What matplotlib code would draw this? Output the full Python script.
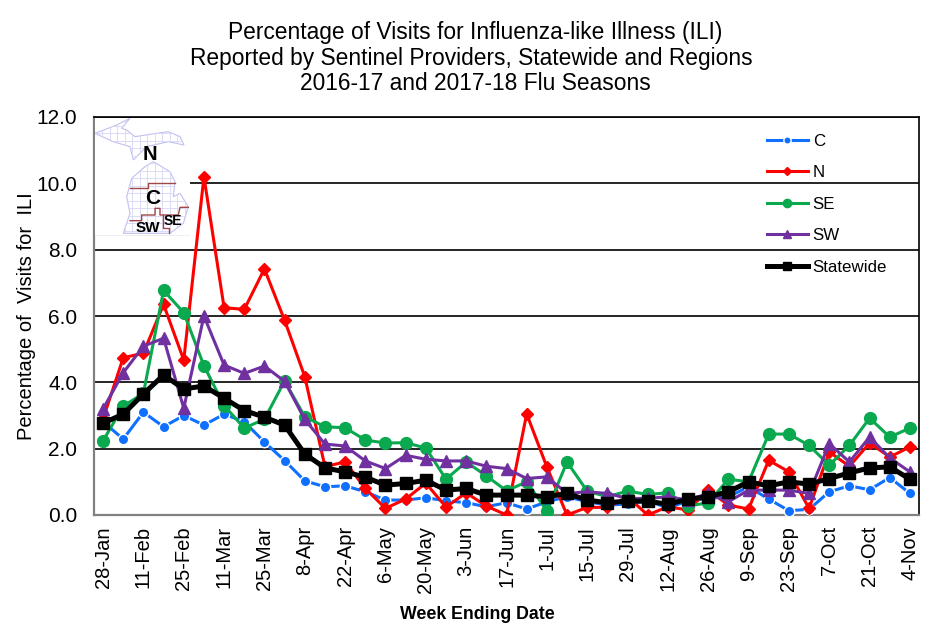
import numpy as np
import matplotlib
matplotlib.use("Agg")
import matplotlib.pyplot as plt
from matplotlib.patches import Polygon

plt.rcParams["font.family"] = ["Liberation Sans", "DejaVu Sans"]

W, H = 938, 623

weeks = ["28-Jan", "4-Feb", "11-Feb", "18-Feb", "25-Feb", "4-Mar", "11-Mar", "18-Mar", "25-Mar", "1-Apr",
         "8-Apr", "15-Apr", "22-Apr", "29-Apr", "6-May", "13-May", "20-May", "27-May", "3-Jun", "10-Jun",
         "17-Jun", "24-Jun", "1-Jul", "8-Jul", "15-Jul", "22-Jul", "29-Jul", "5-Aug", "12-Aug", "19-Aug",
         "26-Aug", "2-Sep", "9-Sep", "16-Sep", "23-Sep", "30-Sep", "7-Oct", "14-Oct", "21-Oct", "28-Oct", "4-Nov"]

c_vals = [2.81, 2.29, 3.10, 2.66, 3.00, 2.71, 3.04, 2.81, 2.20, 1.64, 1.03, 0.85, 0.88, 0.70, 0.45, 0.45,
          0.52, 0.43, 0.37, 0.25, 0.37, 0.18, 0.40, 0.55, 0.40, 0.30, 0.33, 0.42, 0.22, 0.42, 0.50, 0.55,
          0.85, 0.48, 0.13, 0.17, 0.70, 0.88, 0.76, 1.13, 0.65]
n_vals = [2.90, 4.74, 4.88, 6.35, 4.67, 10.2, 6.25, 6.20, 7.42, 5.87, 4.17, 1.46, 1.60, 0.80, 0.20, 0.48,
          0.96, 0.24, 0.67, 0.27, 0.00, 3.05, 1.45, 0.00, 0.23, 0.23, 0.55, 0.00, 0.25, 0.15, 0.75, 0.30,
          0.18, 1.65, 1.30, 0.20, 1.90, 1.47, 2.17, 1.75, 2.05]
se_vals = [2.24, 3.28, 3.67, 6.77, 6.10, 4.50, 3.30, 2.62, 2.89, 4.04, 2.96, 2.66, 2.63, 2.26, 2.17, 2.18,
           2.02, 1.08, 1.60, 1.18, 0.73, 1.00, 0.13, 1.60, 0.72, 0.55, 0.72, 0.62, 0.67, 0.27, 0.37, 1.08,
           1.00, 2.44, 2.44, 2.10, 1.50, 2.10, 2.92, 2.35, 2.62]
sw_vals = [3.20, 4.29, 5.09, 5.33, 3.22, 6.00, 4.52, 4.27, 4.49, 4.03, 2.88, 2.14, 2.08, 1.63, 1.40, 1.80,
           1.68, 1.63, 1.63, 1.47, 1.40, 1.10, 1.15, 0.65, 0.70, 0.65, 0.50, 0.50, 0.55, 0.45, 0.65, 0.40,
           0.75, 0.75, 0.75, 0.65, 2.15, 1.60, 2.35, 1.72, 1.30]
state_vals = [2.77, 3.04, 3.65, 4.22, 3.80, 3.89, 3.52, 3.15, 2.95, 2.71, 1.84, 1.42, 1.30, 1.14, 0.90, 0.95,
              1.05, 0.75, 0.80, 0.60, 0.60, 0.60, 0.55, 0.65, 0.45, 0.37, 0.42, 0.42, 0.32, 0.48, 0.55, 0.70,
              1.00, 0.88, 1.00, 0.93, 1.10, 1.27, 1.42, 1.45, 1.08]

fig = plt.figure(figsize=(W / 100, H / 100), dpi=100, facecolor="white")
ax = fig.add_axes([94 / W, 1 - 515 / H, (919 - 94) / W, (515 - 117) / H])

x = np.arange(len(weeks))
ax.plot(x, c_vals, color="#0f6fff", lw=2.2, marker="o", ms=7.5, mec="white", mew=1.0, label="C", zorder=3)
ax.plot(x, n_vals, color="#ff0000", lw=2.2, marker="D", ms=6.5, mec="#ff0000", label="N", zorder=4)
ax.plot(x, se_vals, color="#0aa84f", lw=2.2, marker="o", ms=8.5, mec="#0aa84f", label="SE", zorder=5)
ax.plot(x, sw_vals, color="#7030a0", lw=2.2, marker="^", ms=8.5, mec="#7030a0", label="SW", zorder=6)
ax.plot(x, state_vals, color="black", lw=3.6, marker="s", ms=8.5, mec="black", label="Statewide", zorder=7)

ax.set_xlim(-0.45, 40.45)
ax.set_ylim(0, 12)
ax.set_yticks(np.arange(0, 12.1, 2))
ax.set_yticklabels(["%.1f" % v for v in np.arange(0, 12.1, 2)], fontsize=15)
ax.set_xticks(x[::2])
ax.set_xticklabels(weeks[::2], rotation=90, fontsize=14.5)
ax.tick_params(axis="y", length=0, pad=12)
ax.tick_params(axis="x", length=0, pad=8)
ax.grid(axis="y", color="black", lw=1.2, zorder=1)
ax.set_axisbelow(True)

ax.spines["left"].set_color("#808080")
ax.spines["bottom"].set_color("#808080")
ax.spines["left"].set_linewidth(1.6)
ax.spines["bottom"].set_linewidth(1.6)
ax.spines["top"].set_linewidth(1.2)
ax.spines["right"].set_linewidth(1.2)

fig.text(27 / W, 1 - 316 / H, "Percentage of  Visits for  ILI", rotation=90, fontsize=14.5, ha="center", va="center")
fig.text(477 / W, 1 - 614.5 / H, "Week Ending Date", fontsize=12.8, fontweight="bold", ha="center", va="center")
fig.text(475 / W, 1 - 33 / H, "Percentage of Visits for Influenza-like Illness (ILI)", fontsize=16.4, ha="center", va="center")
fig.text(471 / W, 1 - 58 / H, "Reported by Sentinel Providers, Statewide and Regions", fontsize=16.4, ha="center", va="center")
fig.text(475 / W, 1 - 84 / H, "2016-17 and 2017-18 Flu Seasons", fontsize=16.4, ha="center", va="center")

leg = ax.legend(loc="upper left", bbox_to_anchor=((767 - 94) / 825, 1 - 16.5 / 398), frameon=False,
                fontsize=12.2, handlelength=2.4, handletextpad=0.3, labelspacing=0.98, markerscale=0.7,
                borderpad=0, borderaxespad=0)
leg.set_zorder(8)

# map inset, in zoomed pixels of the region 80..380 / 100..340
left, right, bottom, top = 94.5, 190, 235.5, 118
inset = fig.add_axes([left / W, 1 - bottom / H, (right - left) / W, (bottom - top) / H], zorder=2)
inset.set_xlim(left, right)
inset.set_ylim(bottom, top)
inset.axis("off")
inset.add_patch(plt.Rectangle((left, top), right - left, bottom - top, fc="white", ec="none", zorder=0))
inset.plot([left, right], [bottom, bottom], color="#b0b0b0", lw=1)


def px(points):
    return [(a / 3 + 80, b / 3 + 100) for a, b in points]


upper = px([(45, 100), (110, 75), (150, 55), (125, 85), (140, 90), (165, 110), (230, 100), (265, 95), (300, 110),
            (312, 135), (265, 125), (200, 140), (160, 180), (150, 140), (100, 125)])
lower = px([(155, 235), (195, 200), (220, 185), (270, 215), (285, 245), (280, 290), (300, 280), (325, 320),
            (310, 370), (270, 400), (130, 400), (150, 340), (140, 290)])
for shape in (upper, lower):
    poly = Polygon(shape, closed=True, fc="white", ec="#c0c0f0", lw=0.8, zorder=1)
    inset.add_patch(poly)
    for gx in np.arange(left, right, 7.5):
        ln, = inset.plot([gx, gx], [top, bottom], color="#d6d6f6", lw=0.6, zorder=2)
        ln.set_clip_path(poly)
    for gy in np.arange(top, bottom, 7.5):
        ln, = inset.plot([left, right], [gy, gy], color="#d6d6f6", lw=0.6, zorder=2)
        ln.set_clip_path(poly)

borders = [[(150, 265), (205, 265), (205, 248), (285, 248)],
           [(150, 362), (185, 362), (185, 345), (225, 345), (225, 325), (240, 325), (240, 345), (295, 345),
            (300, 322), (325, 322)],
           [(248, 345), (248, 385), (268, 385), (268, 400)]]
for b in borders:
    pts = np.array(px(b))
    inset.plot(pts[:, 0], pts[:, 1], color="#a04848", lw=1.0, zorder=3)

inset.text(149.5, 155, "N", fontsize=14.5, fontweight="bold", ha="center", va="center", zorder=4)
inset.text(153, 199, "C", fontsize=15, fontweight="bold", ha="center", va="center", zorder=4)
inset.text(147.5, 228, "SW", fontsize=11, fontweight="bold", ha="center", va="center", zorder=4)
inset.text(173, 221, "SE", fontsize=10, fontweight="bold", ha="center", va="center", zorder=4)

fig.savefig("out.png", dpi=100)
